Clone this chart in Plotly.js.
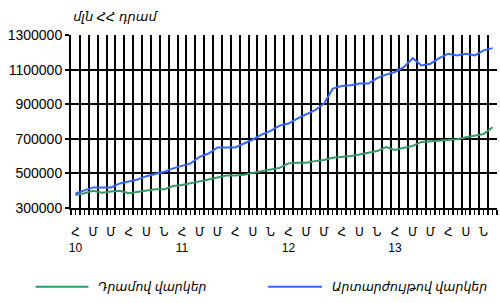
<!DOCTYPE html>
<html>
<head>
<meta charset="utf-8">
<script src="https://cdn.plot.ly/plotly-3.0.1.min.js"></script>
<style>html,body{margin:0;padding:0;background:#fff}#chart{width:500px;height:303px}</style>
</head>
<body>
<div id="chart"></div>
<script>
// Monthly data, January 2010 – December 2013 (million AMD)
const monthLetters = ['Հ', 'Մ', 'Մ', 'Հ', 'Ս', 'Ն'];   // Jan, Mar, May, Jul, Sep, Nov
const yearLabels = ['10', '11', '12', '13'];
const seriesNames = ['Դրամով վարկեր', 'Արտարժույթով վարկեր'];
const seriesColors = ['#339966', '#3366FF'];
const titleText = 'մլն ՀՀ դրամ';
const yTicks = [300000, 500000, 700000, 900000, 1100000, 1300000];

const dramLoans = [
  375000, 385000, 400000, 388000, 396000, 400000, 385000, 394000, 400000, 408000, 408000, 427000,
  433000, 442000, 454000, 465000, 477000, 488000, 488000, 492000, 503000, 511000, 523000, 532000,
  558000, 562000, 562000, 571000, 578000, 590000, 594000, 601000, 609000, 617000, 629000, 652000,
  636000, 648000, 659000, 682000, 686000, 694000, 696000, 698000, 709000, 717000, 728000, 767000
];
const fxLoans = [
  384000, 400000, 419000, 419000, 419000, 442000, 454000, 465000, 484000, 496000, 509000, 529000,
  542000, 558000, 596000, 615000, 650000, 650000, 650000, 673000, 696000, 725000, 746000, 776000,
  788000, 817000, 843000, 865000, 903000, 990000, 1005000, 1009000, 1019000, 1019000, 1051000, 1071000,
  1086000, 1114000, 1166000, 1124000, 1134000, 1166000, 1192000, 1182000, 1192000, 1182000, 1211000, 1224000
];

const nMonths = dramLoans.length;
const xIdx = dramLoans.map((_, i) => i);

// Labels every second month; year under each January
const tickVals = [], tickText = [], boundaries = [];
for (let i = 0; i < nMonths; i++) {
  tickVals.push(i);
  if (i % 2 === 0) {
    const k = i / 2;
    let t = monthLetters[k % monthLetters.length];
    if (k % monthLetters.length === 0) t += '<br>' + yearLabels[k / monthLetters.length];
    tickText.push(t);
  } else {
    tickText.push('');
  }
}
for (let i = 0; i <= nMonths; i++) boundaries.push(i - 0.5);

const FONT = 'Liberation Sans, Arial, DejaVu Sans, sans-serif';

const traces = [
  {x: xIdx, y: dramLoans, name: seriesNames[0], type: 'scatter', mode: 'lines',
   line: {color: seriesColors[0], width: 2}},
  {x: xIdx, y: fxLoans, name: seriesNames[1], type: 'scatter', mode: 'lines',
   line: {color: seriesColors[1], width: 2}}
];

// Legend drawn with paper-referenced shapes and annotations
const L = 70.5, R = 2.5, T = 34.5, B = 95, W = 500, H = 303;
const pw = W - L - R, ph = H - T - B;
const px = v => (v - L) / pw;
const py = v => (H - B - v) / ph;
const legendY = 287;
const legendItems = [
  {x0: 35, x1: 88, tx: 96},
  {x0: 268, x1: 322, tx: 330}
];
const shapes = legendItems.map((it, i) => ({
  type: 'line', xref: 'paper', yref: 'paper',
  x0: px(it.x0), x1: px(it.x1), y0: py(legendY), y1: py(legendY),
  line: {color: seriesColors[i], width: 2}
}));
const annotations = legendItems.map((it, i) => ({
  xref: 'paper', yref: 'paper', x: px(it.tx), y: py(legendY),
  xanchor: 'left', yanchor: 'middle', showarrow: false,
  text: '<i>' + seriesNames[i] + '</i>',
  font: {family: FONT, size: 12.5, color: '#000'}
}));

const layout = {
  width: W, height: H,
  margin: {l: L, r: R, t: T, b: B, pad: 0},
  paper_bgcolor: '#fff', plot_bgcolor: '#fff',
  showlegend: false,
  font: {family: FONT, color: '#000'},
  title: {text: '<i>' + titleText + '</i>', x: 0.005, xref: 'paper', xanchor: 'left',
          y: 1 - 16 / H, yref: 'container', yanchor: 'middle',
          font: {family: FONT, size: 13, color: '#000'}},
  xaxis: {
    range: [-0.5, nMonths - 0.5], tickmode: 'array', tickvals: tickVals, ticktext: tickText,
    showgrid: false, zeroline: false, showline: true, linecolor: '#000', linewidth: 2,
    ticks: 'outside', ticklen: 5, tickwidth: 1, tickcolor: '#000', ticklabelstandoff: 7,
    minor: {tickmode: 'array', tickvals: boundaries, ticks: 'outside', ticklen: 5, tickwidth: 2,
            tickcolor: '#000', showgrid: true, gridcolor: '#000', gridwidth: 2},
    tickfont: {family: FONT, size: 12, color: '#000'}, tickangle: 0, fixedrange: true
  },
  yaxis: {
    range: [300000, 1300000], tickmode: 'array', tickvals: yTicks,
    ticktext: yTicks.map(v => String(v)),
    showgrid: true, gridcolor: '#000', gridwidth: 2, zeroline: false,
    showline: true, linecolor: '#000', linewidth: 2,
    ticks: 'outside', ticklen: 4, tickwidth: 2, tickcolor: '#000',
    tickfont: {family: FONT, size: 14, color: '#000'}, fixedrange: true
  },
  shapes: shapes,
  annotations: annotations
};

Plotly.newPlot('chart', traces, layout, {displayModeBar: false, staticPlot: true});
</script>
</body>
</html>
